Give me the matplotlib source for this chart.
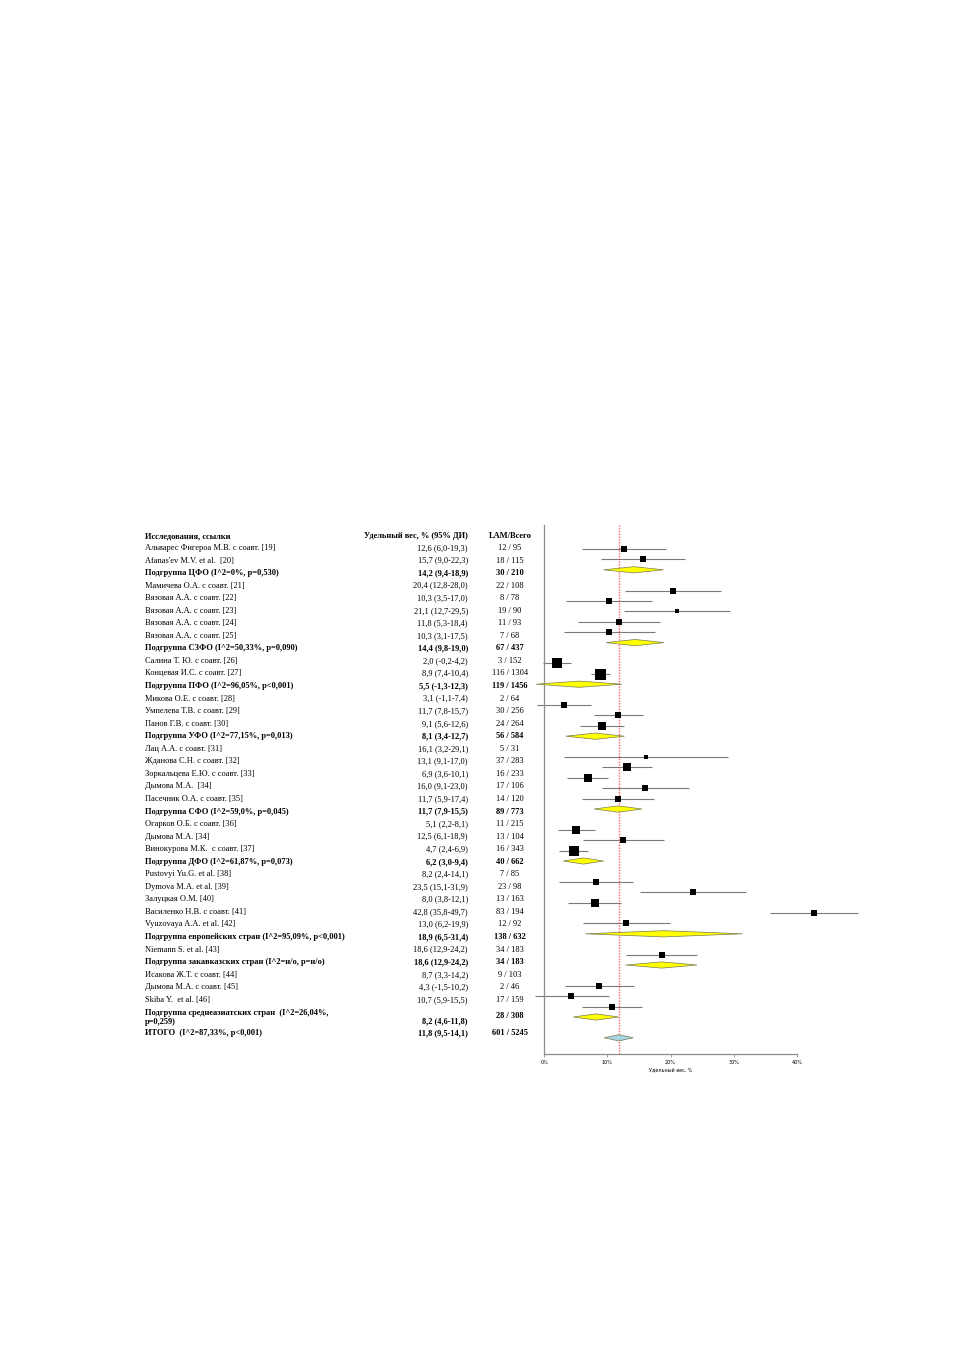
import numpy as np
import matplotlib
matplotlib.use("Agg")
import matplotlib.pyplot as plt
from matplotlib.patches import Polygon

# --- data ---
labels = [
    "Альварес Фигероа М.В. с соавт. [19]",
    "Afanas'ev M.V. et al.  [20]",
    "Подгруппа ЦФО (I^2=0%, p=0,530)",
    "Мамичева О.А. с соавт. [21]",
    "Вязовая А.А. с соавт. [22]",
    "Вязовая А.А. с соавт. [23]",
    "Вязовая А.А. с соавт. [24]",
    "Вязовая А.А. с соавт. [25]",
    "Подгруппа СЗФО (I^2=50,33%, p=0,090)",
    "Салина Т. Ю. с соавт. [26]",
    "Концевая И.С. с соавт. [27]",
    "Подгруппа ПФО (I^2=96,05%, p<0,001)",
    "Микова О.Е. с соавт. [28]",
    "Умпелева Т.В. с соавт. [29]",
    "Панов Г.В. с соавт. [30]",
    "Подгруппа УФО (I^2=77,15%, p=0,013)",
    "Лац А.А. с соавт. [31]",
    "Жданова С.Н. с соавт. [32]",
    "Зоркальцева Е.Ю. с соавт. [33]",
    "Дымова М.А.  [34]",
    "Пасечник О.А. с соавт. [35]",
    "Подгруппа СФО (I^2=59,0%, p=0,045)",
    "Огарков О.Б. с соавт. [36]",
    "Дымова М.А. [34]",
    "Винокурова М.К.  с соавт. [37]",
    "Подгруппа ДФО (I^2=61,87%, p=0,073)",
    "Pustovyi Yu.G. et al. [38]",
    "Dymova M.A. et al. [39]",
    "Залуцкая О.М. [40]",
    "Василенко Н.В. с соавт. [41]",
    "Vyuzovaya A.A. et al. [42]",
    "Подгруппа европейских стран (I^2=95,09%, p<0,001)",
    "Niemann S. et al. [43]",
    "Подгруппа закавказских стран (I^2=н/о, p=н/о)",
    "Исакова Ж.Т. с соавт. [44]",
    "Дымова М.А. с соавт. [45]",
    "Skiba Y.  et al. [46]",
    "Подгруппа среднеазиатских стран  (I^2=26,04%,\np=0,259)",
    "ИТОГО  (I^2=87,33%, p<0,001)",
]
kinds = (["s", "s", "g"] + ["s"] * 5 + ["g"] + ["s"] * 2 + ["g"] + ["s"] * 3 + ["g"]
         + ["s"] * 5 + ["g"] + ["s"] * 3 + ["g"] + ["s"] * 5 + ["g"] + ["s", "g"]
         + ["s"] * 3 + ["g", "t"])
est = [12.6, 15.7, 14.2, 20.4, 10.3, 21.1, 11.8, 10.3, 14.4, 2.0, 8.9, 5.5, 3.1, 11.7,
       9.1, 8.1, 16.1, 13.1, 6.9, 16.0, 11.7, 11.7, 5.1, 12.5, 4.7, 6.2, 8.2, 23.5, 8.0,
       42.8, 13.0, 18.9, 18.6, 18.6, 8.7, 4.3, 10.7, 8.2, 11.8]
lo = [6.0, 9.0, 9.4, 12.8, 3.5, 12.7, 5.3, 3.1, 9.8, -0.2, 7.4, -1.3, -1.1, 7.8, 5.6,
      3.4, 3.2, 9.1, 3.6, 9.1, 5.9, 7.9, 2.2, 6.1, 2.4, 3.0, 2.4, 15.1, 3.8, 35.8, 6.2,
      6.5, 12.9, 12.9, 3.3, -1.5, 5.9, 4.6, 9.5]
hi = [19.3, 22.3, 18.9, 28.0, 17.0, 29.5, 18.4, 17.5, 19.0, 4.2, 10.4, 12.3, 7.4, 15.7,
      12.6, 12.7, 29.1, 17.0, 10.1, 23.0, 17.4, 15.5, 8.1, 18.9, 6.9, 9.4, 14.1, 31.9,
      12.1, 49.7, 19.9, 31.4, 24.2, 24.2, 14.2, 10.2, 15.5, 11.8, 14.1]
events = [12, 18, 30, 22, 8, 19, 11, 7, 67, 3, 116, 119, 2, 30, 24, 56, 5, 37, 16, 17, 14,
          89, 11, 13, 16, 40, 7, 23, 13, 83, 12, 138, 34, 34, 9, 2, 17, 28, 601]
totals = [95, 115, 210, 108, 78, 90, 93, 68, 437, 152, 1304, 1456, 64, 256, 264, 584, 31,
          283, 233, 106, 120, 773, 215, 104, 343, 662, 85, 98, 163, 194, 92, 632, 183, 183,
          103, 46, 159, 308, 5245]
# relative study weights (box area)
weights = [5.5, 5.5, 0, 5.5, 5.5, 4.5, 5.5, 5.5, 0, 19, 25, 0, 9, 9, 11, 0, 2.7, 11, 13.3,
           5.5, 7, 0, 16, 7, 19, 0, 9, 5.5, 11, 7, 7, 0, 9, 0, 9, 7, 9, 0, 0]
ticks = [0, 10, 20, 30, 40]

W, H = 954, 1350
fig = plt.figure(figsize=(W / 100, H / 100), dpi=100)
FONT = "Liberation Serif"


def fy(py):
    return 1 - py / H


def fmt(v):
    return f"{v:.1f}".replace(".", ",")


# --- table on the left ---
fig.text(145 / W, fy(536), "Исследования, ссылки", fontsize=6, fontweight="bold",
         family=FONT, va="center", ha="left")
fig.text(468 / W, fy(536), "Удельный вес, % (95% ДИ)", fontsize=6, fontweight="bold",
         family=FONT, va="center", ha="right")
fig.text(510 / W, fy(536), "LAM/Всего", fontsize=6, fontweight="bold",
         family=FONT, va="center", ha="center")

ty = 548.0
for i, lab in enumerate(labels):
    bold = "bold" if kinds[i] != "s" else "normal"
    val = f"{fmt(est[i])} ({fmt(lo[i])}-{fmt(hi[i])})"
    cnt = f"{events[i]} / {totals[i]}"
    if "\n" in lab:
        yc = ty + 5
        fig.text(145 / W, fy(yc), lab, fontsize=6, fontweight=bold, family=FONT,
                 va="center", ha="left", linespacing=1.1)
        fig.text(468 / W, fy(yc + 4), val, fontsize=6, fontweight=bold, family=FONT,
                 va="center", ha="right")
        fig.text(510 / W, fy(yc - 1), cnt, fontsize=6, fontweight=bold, family=FONT,
                 va="center", ha="center")
        ty = yc + 16
        continue
    fig.text(145 / W, fy(ty), lab, fontsize=6, fontweight=bold, family=FONT,
             va="center", ha="left")
    fig.text(468 / W, fy(ty), val, fontsize=6, fontweight=bold, family=FONT,
             va="center", ha="right")
    fig.text(510 / W, fy(ty), cnt, fontsize=6, fontweight=bold, family=FONT,
             va="center", ha="center")
    ty += 12.55

# --- forest plot ---
x0, x40, ytop, ybot, step, first = 544.3, 796.7, 525, 1054, 10.4, 549
ax = fig.add_axes([x0 / W, 1 - ybot / H, (x40 - x0) / W, (ybot - ytop) / H])
ax.set_xlim(ticks[0], ticks[-1])
ax.set_ylim((ybot - first) / step, (ytop - first) / step)

k = 0
for i in range(len(labels)):
    if kinds[i] == "s":
        ax.plot([lo[i], hi[i]], [k, k], color="#7a7a7a", lw=0.8, clip_on=False,
                solid_capstyle="butt")
        side = 2.2 * np.sqrt(weights[i]) * 0.72
        ax.plot(est[i], k, "s", ms=side, color="black", mec="black", mew=0,
                clip_on=False, zorder=4)
        k += 1
    else:
        h = 0.3
        fc = "#ffff00" if kinds[i] == "g" else "#a9d6e5"
        poly = Polygon([[lo[i], k], [est[i], k - h], [hi[i], k], [est[i], k + h]],
                       closed=True, facecolor=fc, edgecolor="#7a7a50", lw=0.5,
                       clip_on=False, zorder=3)
        ax.add_patch(poly)
        k += 2

ax.axvline(est[-1], color="#ff3030", lw=1.0, ls=(0, (1.0, 1.0)), alpha=0.75, zorder=2)

for s in ["top", "right"]:
    ax.spines[s].set_visible(False)
for s in ["left", "bottom"]:
    ax.spines[s].set_color("#8c8c8c")
    ax.spines[s].set_linewidth(0.9)
ax.set_yticks([])
ax.set_xticks(ticks)
ax.set_xticklabels([f"{t}%" for t in ticks])
ax.tick_params(axis="x", length=2, width=0.6, color="#8c8c8c", labelsize=3.5, pad=2)
ax.set_xlabel("Удельный вес, %", fontsize=3.5, labelpad=2)
ax.patch.set_alpha(0)

fig.savefig("out.png", dpi=100)
